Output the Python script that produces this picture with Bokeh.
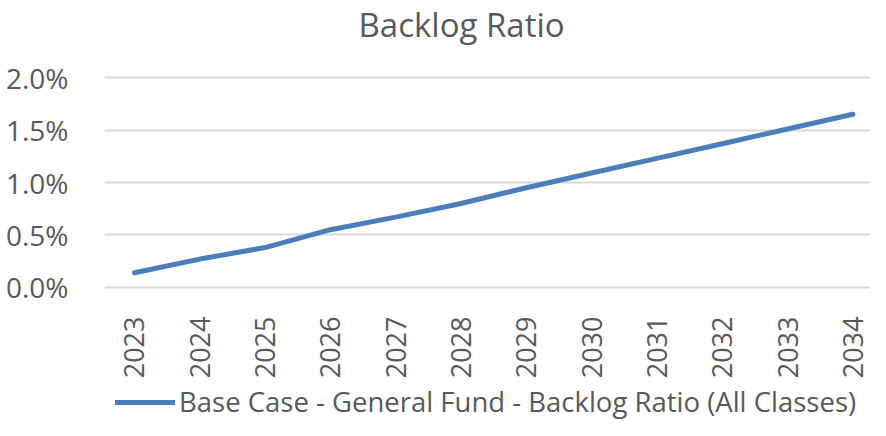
import math
from bokeh.plotting import figure
from bokeh.layouts import column
from bokeh.models import Range1d, FixedTicker, PrintfTickFormatter, Legend, LegendItem, ColumnDataSource, Label
from bokeh.embed import file_html
from bokeh.resources import INLINE

years = ["2023", "2024", "2025", "2026", "2027", "2028", "2029", "2030", "2031", "2032", "2033", "2034"]
backlog_ratio_pct = [0.14, 0.27, 0.38, 0.55, 0.67, 0.80, 0.95, 1.09, 1.23, 1.37, 1.51, 1.65]
y_ticks = [0.0, 0.5, 1.0, 1.5, 2.0]
series_name = "Base Case - General Fund - Backlog Ratio (All Classes)"
title_text = "Backlog Ratio"

FONT = "Open Sans"
TXT = "#595959"
LINE = "#4A7EBB"

idx = list(range(len(years)))
src = ColumnDataSource(dict(x=idx, y=backlog_ratio_pct))


def strip(h):
    f = figure(width=870, height=h, output_backend="svg", toolbar_location=None,
               x_range=Range1d(0, 1), y_range=Range1d(0, 1),
               x_axis_location=None, y_axis_location=None,
               min_border_left=0, min_border_right=0, min_border_top=0, min_border_bottom=0)
    f.outline_line_color = None
    f.grid.visible = False
    return f


# title strip
tf = strip(57)
tf.add_layout(Label(x=254, y=33, x_units="screen", y_units="screen", text=title_text,
                    text_font=FONT, text_font_size="33px", text_color=TXT,
                    text_align="left", text_baseline="alphabetic"))

# main chart
p = figure(width=870, height=324, output_backend="svg", toolbar_location=None,
           x_range=Range1d(-0.459, 11.27), y_range=Range1d(-0.02, 2.02),
           min_border_left=104, min_border_right=0, min_border_top=18, min_border_bottom=84)

p.outline_line_color = None
p.xgrid.grid_line_color = None
p.ygrid.grid_line_color = "#D9D9D9"
p.ygrid.grid_line_width = 2

p.yaxis.ticker = FixedTicker(ticks=y_ticks)
p.yaxis.formatter = PrintfTickFormatter(format="%.1f%%")
p.yaxis.axis_line_color = None
p.yaxis.major_tick_line_color = None
p.yaxis.minor_tick_line_color = None
p.yaxis.major_label_standoff = 30
p.yaxis.major_label_text_font = FONT
p.yaxis.major_label_text_font_size = "28px"
p.yaxis.major_label_text_color = TXT

p.xaxis.ticker = FixedTicker(ticks=idx)
p.xaxis.major_label_overrides = {i: y for i, y in zip(idx, years)}
p.xaxis.major_label_orientation = math.pi / 2
p.xaxis.axis_line_color = None
p.xaxis.major_tick_line_color = None
p.xaxis.minor_tick_line_color = None
p.xaxis.major_label_standoff = 21
p.xaxis.major_label_text_font = FONT
p.xaxis.major_label_text_font_size = "27px"
p.xaxis.major_label_text_color = TXT

r = p.line("x", "y", source=src, line_color=LINE, line_width=5, line_cap="round", line_join="round")

# legend strip below the chart (series drawn off-range so only its legend swatch shows)
lg = strip(39)
lg.y_range = Range1d(100, 101)
dummy = lg.line("x", "y", source=src, line_color=LINE, line_width=5, line_cap="round")

legend = Legend(items=[LegendItem(label=series_name, renderers=[dummy])], orientation="horizontal",
                location=(11, 0), border_line_color=None, background_fill_alpha=0,
                label_text_font=FONT, label_text_font_size="27.5px", label_text_color=TXT,
                glyph_width=60, glyph_height=20, label_standoff=4, padding=0, margin=0, spacing=0)
lg.add_layout(legend, "center")

layout = column(tf, p, lg, spacing=0)
open("out.html", "w").write(file_html(layout, INLINE))
